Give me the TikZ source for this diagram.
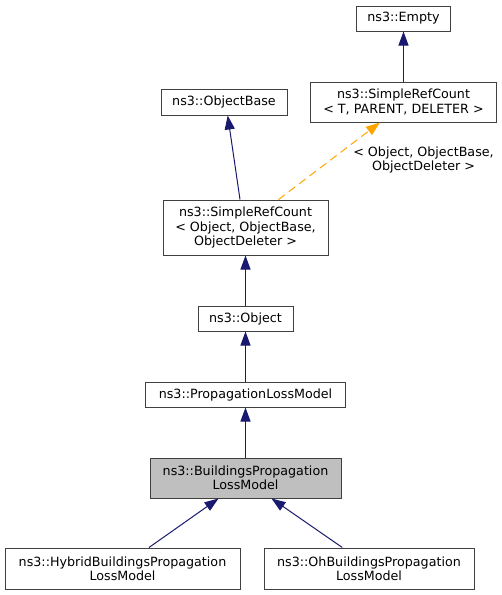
\documentclass[tikz,border=0pt]{standalone}
\usepackage{fontspec}
\setmainfont{DejaVu Sans}
\usetikzlibrary{arrows.meta,calc}
\definecolor{edgeblue}{HTML}{191970}
\definecolor{tmplorange}{HTML}{FFA500}
\definecolor{boxgray}{HTML}{404040}
\definecolor{curfill}{HTML}{BFBFBF}
\begin{document}
\begin{tikzpicture}[x=1pt,y=-1pt,
  cls/.style={draw=boxgray,line width=1pt,fill=white,inner sep=0pt,align=center,
    font=\fontsize{12.7}{14.3}\selectfont},
  cur/.style={cls,fill=curfill},
  inh/.style={draw=edgeblue,line width=1pt,-{Triangle[length=14pt,width=10pt]}},
  tmpl/.style={draw=tmplorange,line width=1pt,dash pattern=on 8pt off 5pt,
    -{Triangle[length=14pt,width=10pt,fill=tmplorange]}},
  lbl/.style={inner sep=0pt,align=center,font=\fontsize{12.7}{14.3}\selectfont}]
\useasboundingbox (0,0) rectangle (502,595);
\node[cls,minimum width=94pt,minimum height=25pt] (empty) at (403.5,18.5) {ns3::Empty};
\node[cls,minimum width=186pt,minimum height=40pt] (srct) at (403.5,102) {ns3::SimpleRefCount\\< T, PARENT, DELETER >};
\node[cls,minimum width=126pt,minimum height=26pt] (objbase) at (224,102) {ns3::ObjectBase};
\node[cls,minimum width=165pt,minimum height=55pt] (srco) at (245.5,227.5) {ns3::SimpleRefCount\\< Object, ObjectBase,\\ObjectDeleter >};
\node[cls,minimum width=95pt,minimum height=25pt] (object) at (245.5,318.5) {ns3::Object};
\node[cls,minimum width=200pt,minimum height=25pt] (plm) at (245.5,394.5) {ns3::PropagationLossModel};
\node[cur,minimum width=191pt,minimum height=40pt] (bplm) at (245.5,478) {ns3::BuildingsPropagation\\LossModel};
\node[cls,minimum width=235pt,minimum height=41pt] (hybrid) at (122.5,568.5) {ns3::HybridBuildingsPropagation\\LossModel};
\node[cls,minimum width=210pt,minimum height=41pt] (oh) at (369,568.5) {ns3::OhBuildingsPropagation\\LossModel};
\node[lbl] (tlabel) at (423.5,159.7) {< Object, ObjectBase,\\ObjectDeleter >};
\draw[inh] (srct.north) -- (empty.south);
\draw[inh] ($(srco.north)+(-5.5,0)$) -- ($(objbase.south)+(3.7,0)$);
\draw[tmpl] ($(srco.north)+(33,0)$) -- ($(srct.south)+(-23.5,0)$);
\draw[inh] (object.north) -- (srco.south);
\draw[inh] (plm.north) -- (object.south);
\draw[inh] (bplm.north) -- (plm.south);
\draw[inh] ($(hybrid.north)+(26.5,0)$) -- ($(bplm.south)+(-27,0)$);
\draw[inh] ($(oh.north)+(-26.7,0)$) -- ($(bplm.south)+(26,0)$);
\end{tikzpicture}
\end{document}
